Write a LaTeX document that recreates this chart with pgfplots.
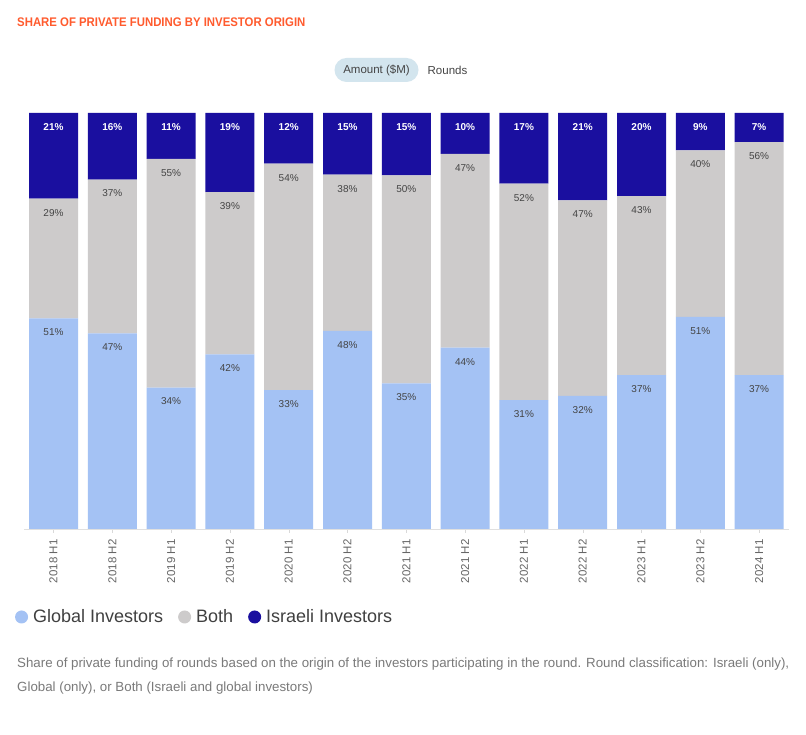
\documentclass[border=0pt]{standalone}
\usepackage{pgfplots}
\pgfplotsset{compat=1.18}
\usepackage{pgfplotstable}
\usepackage{fontspec}
\setmainfont{Liberation Sans}

\definecolor{globalc}{HTML}{A4C2F4}
\definecolor{bothc}{HTML}{CDCBCB}
\definecolor{israelc}{HTML}{1A0F9F}
\definecolor{titlec}{HTML}{FF5B2E}
\definecolor{pillc}{HTML}{D3E5EE}
\definecolor{labelc}{HTML}{444444}
\definecolor{tickc}{HTML}{666666}
\definecolor{capc}{HTML}{7A7A7A}

% shares per half-year: global, both, israeli (rounded labels in chart)
\pgfplotstableread{
x  g     b     i
0  50.6  28.8  20.6
1  47    37    16
2  34    55    11
3  42    39    19
4  33.4  54.4  12.2
5  47.6  37.6  14.8
6  35    50    15
7  43.6  46.6  9.8
8  31    52    17
9  32    47    21
10 37    43    20
11 51    40    9
12 37    56    7
}\shares

\begin{document}
\begin{tikzpicture}
\path[use as bounding box, fill=white] (0,0) rectangle (806pt,735pt);

\node[anchor=west, text=titlec, inner sep=0pt, font=\bfseries\fontsize{12.5}{14}\selectfont]
  at (17pt,713pt) {\scalebox{0.91}[1]{SHARE OF PRIVATE FUNDING BY INVESTOR ORIGIN}};

\node[fill=pillc, rounded corners=12pt, minimum height=24pt, minimum width=84pt, inner sep=0pt,
  font=\fontsize{11.5}{13}\selectfont, text=labelc] at (376.5pt,665pt) {Amount (\$M)};
\node[font=\fontsize{11.5}{13}\selectfont, text=labelc] at (447.5pt,665pt) {Rounds};

\begin{axis}[
    at={(24.1pt,206pt)}, anchor=south west,
    scale only axis, width=764.4pt, height=416pt,
    ybar stacked, bar width=49pt,
    xmin=-0.5, xmax=12.5, ymin=0, ymax=100,
    axis y line=none, axis x line*=bottom,
    x axis line style={draw=black!12, line width=0.8pt},
    xtick=data,
    xticklabels={2018 H1,2018 H2,2019 H1,2019 H2,2020 H1,2020 H2,2021 H1,2021 H2,2022 H1,2022 H2,2023 H1,2023 H2,2024 H1},
    xticklabel style={yshift=-3pt, rotate=90, anchor=east, text=tickc, font=\fontsize{11.5}{13}\selectfont},
    tick align=outside, major tick length=4pt,
    xtick style={draw=black!15},
    clip=false,
    point meta=explicit,
    /pgf/number format/assume math mode=true,
    nodes near coords={\pgfmathprintnumber[fixed,precision=0]{\pgfplotspointmeta}\%},
    legend columns=3,
    legend style={at={(-0.016,-0.2115)}, anchor=west, draw=none, fill=none,
        font=\fontsize{18}{20}\selectfont, text=black!75,
        /tikz/every odd column/.append style={column sep=3pt},
        /tikz/every even column/.append style={column sep=13pt}},
    legend image code/.code={\fill[#1, draw=none] (0pt,0pt) circle (6.5pt);},
]
\addplot[fill=globalc, draw=none,
    visualization depends on={\thisrow{g} \as \segh},
    every node near coord/.append style={anchor=center, yshift=\segh*2.08pt-14pt, text=labelc,
        font=\fontsize{10}{11}\selectfont}]
    table[x=x, y=g, meta=g] {\shares};
\addplot[fill=bothc, draw=none,
    visualization depends on={\thisrow{b} \as \segh},
    every node near coord/.append style={anchor=center, yshift=\segh*2.08pt-14pt, text=labelc,
        font=\fontsize{10}{11}\selectfont}]
    table[x=x, y=b, meta=b] {\shares};
\addplot[fill=israelc, draw=none,
    visualization depends on={\thisrow{i} \as \segh},
    every node near coord/.append style={anchor=center, yshift=\segh*2.08pt-14pt, text=white,
        font=\bfseries\fontsize{10}{11}\selectfont}]
    table[x=x, y=i, meta=i] {\shares};
\legend{Global Investors, Both, Israeli Investors}
\end{axis}

\node[anchor=west, text=capc, inner sep=0pt, font=\fontsize{13.3}{15}\selectfont]
  at (17pt,71pt) {Share of private funding of rounds based on the origin of the investors participating in the round. Round classification: Israeli (only),};
\node[anchor=west, text=capc, inner sep=0pt, font=\fontsize{13.3}{15}\selectfont]
  at (17pt,47pt) {Global (only), or Both (Israeli and global investors)};
\end{tikzpicture}
\end{document}
